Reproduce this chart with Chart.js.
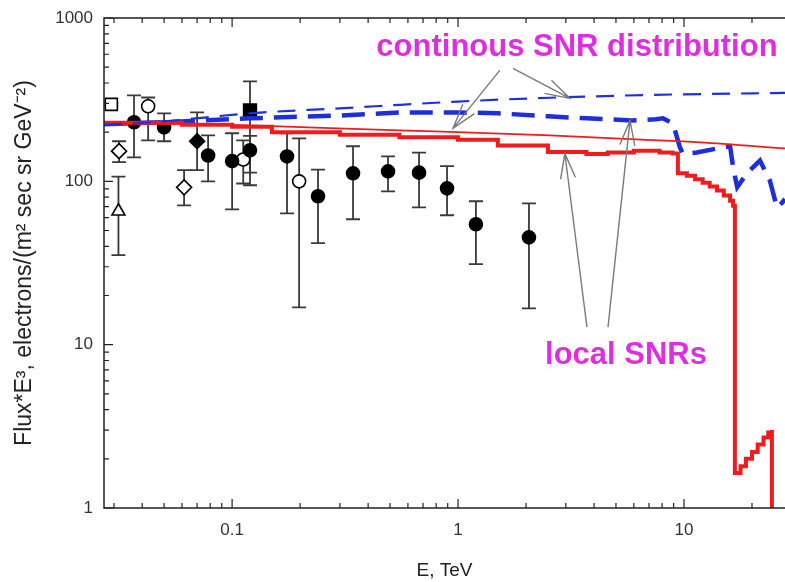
<!DOCTYPE html>
<html><head><meta charset="utf-8">
<script src="https://cdn.jsdelivr.net/npm/chart.js@4.4.1/dist/chart.umd.min.js"></script>
<style>html,body{margin:0;padding:0;background:#fff;overflow:hidden}canvas{display:block}</style>
</head><body>
<canvas id="c" width="785" height="582" style="width:785px;height:582px"></canvas>
<script>
// ---------- data (E in TeV, flux*E^3) ----------
const xTickValues = [0.1, 1, 10];
const xTickLabels = ['0.1', '1', '10'];
const yTickValues = [1, 10, 100, 1000];
const yTickLabels = ['1', '10', '100', '1000'];

// filled circles
const fcE  = [0.0368, 0.05, 0.0783, 0.100, 0.120, 0.175, 0.240, 0.343, 0.490, 0.672, 0.894, 1.20, 2.06];
const fcF  = [230, 214, 144, 133, 155, 142, 81, 112, 115, 113, 90.6, 54.6, 45.4];
const fcLo = [140, 176, 100, 67.4, 113, 63.7, 41.8, 58.6, 86.9, 69.3, 62, 31.1, 16.7];
const fcHi = [336, 261, 191, 197, 190, 197, 118, 164, 142, 150, 124, 75.5, 73.3];
// filled diamond
const fdE = [0.070], fdF = [176], fdLo = [117], fdHi = [264];
// filled square
const fsE = [0.120], fsF = [272], fsLo = [94.6], fsHi = [409];
// open circles
const ocE = [0.0425, 0.112, 0.198], ocF = [288, 136, 100], ocLo = [178, 97, 16.9], ocHi = [326, 178, 183];
// open diamonds
const odE = [0.0316, 0.0613], odF = [153, 91.9], odLo = [131, 71.3], odHi = [176, 117];
// open triangle
const otE = [0.0314], otF = [65.6], otLo = [35.3], otHi = [107];
// open square
const osE = [0.0292], osF = [296], osLo = [290], osHi = [302];

// continuous SNR distribution (thin dashed blue)
const contBlueE = [0.0271, 0.05, 0.12, 0.30, 0.553, 1.0, 2.55, 7.07, 28.0];
const contBlueF = [222, 233, 261, 280, 294, 308, 325, 338, 348];
// continuous SNR distribution (thin solid red)
const contRedE = [0.0271, 0.05, 0.12, 0.55, 1.0, 2.55, 6.5, 11.8, 28.0];
const contRedF = [228, 226, 220, 205, 200, 191, 180, 173, 159];
// local SNRs + background (thick dashed blue)
const localBlueE = [0.0271, 0.05, 0.12, 0.30, 0.553, 1.0, 1.5, 2.5, 3.7, 5.9, 7.5, 8.07, 8.94, 9.6, 9.9, 10.3, 11.4, 14.0, 16.0, 16.5, 17.2, 19.0, 21.7, 24.0, 25.8, 27.2, 28.0];
const localBlueF = [224, 230, 243, 253, 264, 264, 261, 250, 243, 236, 240, 243, 226, 161, 148, 148, 150, 159, 164, 122, 92, 112, 134, 101, 69, 74, 78];
// local SNRs (thick stepped red)
const localRedE = [0.0271, 0.06, 0.1, 0.15, 0.3, 0.55, 1.0, 1.5, 2.5, 3.7, 4.6, 6.0, 7.8, 8.9, 9.4, 10.3, 11.2, 12.1, 13.0, 14.0, 15.0, 16.0, 16.5, 16.8, 17.8, 18.8, 20.0, 21.2, 22.5, 23.6, 24.5, 24.5];
const localRedF = [228, 222, 216, 200, 193, 186, 180, 166, 151, 147, 150, 154, 150, 148, 112, 108, 103, 98, 93, 88, 82, 76, 71, 1.64, 1.8, 2.0, 2.2, 2.45, 2.7, 2.9, 3.0, 0.5];

// ---------- annotations (data coordinates) ----------
const notes = [
  {text: 'continous SNR distribution', x: 3.36, y: 660},
  {text: 'local SNRs', x: 5.54, y: 8.63}
];
const arrows = [
  {from: [1.53, 478], to: [0.95, 211]},
  {from: [1.75, 491], to: [3.13, 322]},
  {from: [3.72, 12.8], to: [2.97, 148]},
  {from: [4.61, 12.8], to: [5.77, 236]}
];

const pts = (xs, ys) => xs.map((v, i) => ({x: v, y: ys[i]}));

const markerSeries = [
  {E: fcE, F: fcF, lo: fcLo, hi: fcHi, style: 'circle', r: 6.5, fill: '#000'},
  {E: fdE, F: fdF, lo: fdLo, hi: fdHi, style: 'rectRot', r: 7.5, fill: '#000'},
  {E: fsE, F: fsF, lo: fsLo, hi: fsHi, style: 'rect', r: 9, fill: '#000'},
  {E: ocE, F: ocF, lo: ocLo, hi: ocHi, style: 'circle', r: 6.5, fill: '#fff'},
  {E: odE, F: odF, lo: odLo, hi: odHi, style: 'rectRot', r: 7.5, fill: '#fff'},
  {E: otE, F: otF, lo: otLo, hi: otHi, style: 'triangle', r: 7.5, fill: '#fff'},
  {E: osE, F: osF, lo: osLo, hi: osHi, style: 'rect', r: 8.5, fill: '#fff'}
];

const datasets = [];
datasets.push({data: pts(contBlueE, contBlueF), showLine: true, pointRadius: 0, borderColor: '#1f2fe0', borderWidth: 2.2, borderDash: [18, 11], cubicInterpolationMode: 'monotone', order: 0});
datasets.push({data: pts(contRedE, contRedF), showLine: true, pointRadius: 0, borderColor: '#ee1c1c', borderWidth: 1.8, cubicInterpolationMode: 'monotone', order: 1});
datasets.push({data: pts(localRedE, localRedF), showLine: true, pointRadius: 0, borderColor: '#ee1c1c', borderWidth: 4, stepped: true, order: 2});
datasets.push({data: pts(localBlueE, localBlueF), showLine: true, pointRadius: 0, borderColor: '#1f2fd8', borderWidth: 4.5, borderDash: [23, 11], order: 3});
markerSeries.forEach(s => {
  datasets.push({data: pts(s.E, s.F), showLine: false, pointStyle: s.style, pointRadius: s.r,
    backgroundColor: s.fill, borderColor: '#000', borderWidth: 1.6, order: 5});
});

const decor = {
  id: 'decor',
  beforeDatasetsDraw(chart) {
    const {ctx, scales: {x, y}} = chart;
    ctx.save();
    ctx.strokeStyle = '#3a3a3a';
    ctx.lineWidth = 1.8;
    markerSeries.forEach(s => {
      s.E.forEach((e, i) => {
        const px = x.getPixelForValue(e);
        const t = y.getPixelForValue(s.hi[i]), b = y.getPixelForValue(s.lo[i]);
        ctx.beginPath();
        ctx.moveTo(px, t); ctx.lineTo(px, b);
        ctx.moveTo(px - 7, t); ctx.lineTo(px + 7, t);
        ctx.moveTo(px - 7, b); ctx.lineTo(px + 7, b);
        ctx.stroke();
      });
    });
    ctx.restore();
  },
  afterDraw(chart) {
    const {ctx, chartArea: a, scales: {x, y}} = chart;
    ctx.save();
    // axes frame
    ctx.strokeStyle = '#222';
    ctx.lineWidth = 1.5;
    ctx.beginPath();
    ctx.moveTo(a.right + 2, a.top); ctx.lineTo(a.left, a.top); ctx.lineTo(a.left, a.bottom); ctx.lineTo(a.right + 2, a.bottom);
    ctx.stroke();
    // inward ticks
    ctx.lineWidth = 1.2;
    ctx.beginPath();
    for (let d = -2; d <= 2; d++) {
      for (let m = 1; m <= 9; m++) {
        const v = m * Math.pow(10, d);
        if (v < x.min || v > x.max) continue;
        const p = x.getPixelForValue(v), len = m === 1 ? 9 : 5;
        ctx.moveTo(p, a.bottom); ctx.lineTo(p, a.bottom - len);
        ctx.moveTo(p, a.top); ctx.lineTo(p, a.top + len);
      }
    }
    for (let d = 0; d <= 3; d++) {
      for (let m = 1; m <= 9; m++) {
        const v = m * Math.pow(10, d);
        if (v < y.min || v > y.max) continue;
        const p = y.getPixelForValue(v), len = m === 1 ? 9 : 5;
        ctx.moveTo(a.left, p); ctx.lineTo(a.left + len, p);
      }
    }
    ctx.stroke();
    // arrows
    ctx.strokeStyle = '#7a7a7a';
    ctx.lineWidth = 1.4;
    arrows.forEach(ar => {
      const x0 = x.getPixelForValue(ar.from[0]), y0 = y.getPixelForValue(ar.from[1]);
      const x1 = x.getPixelForValue(ar.to[0]), y1 = y.getPixelForValue(ar.to[1]);
      const ang = Math.atan2(y0 - y1, x0 - x1), L = 26, h = 0.29;
      ctx.beginPath();
      ctx.moveTo(x0, y0); ctx.lineTo(x1, y1);
      ctx.moveTo(x1 + L * Math.cos(ang - h), y1 + L * Math.sin(ang - h));
      ctx.lineTo(x1, y1);
      ctx.lineTo(x1 + L * Math.cos(ang + h), y1 + L * Math.sin(ang + h));
      ctx.stroke();
    });
    // labels
    ctx.fillStyle = '#dd2fdd';
    ctx.font = 'bold 31px "Liberation Sans", Arial, sans-serif';
    ctx.textAlign = 'center';
    ctx.textBaseline = 'middle';
    notes.forEach(n => ctx.fillText(n.text, x.getPixelForValue(n.x), y.getPixelForValue(n.y)));
    ctx.restore();
  }
};

new Chart(document.getElementById('c'), {
  type: 'scatter',
  data: {datasets},
  options: {
    responsive: false,
    animation: false,
    devicePixelRatio: 1,
    layout: {autoPadding: false, padding: {top: 18, right: 0, left: 0, bottom: 0}},
    plugins: {legend: {display: false}, tooltip: {enabled: false}},
    scales: {
      x: {
        type: 'logarithmic', min: 0.0271, max: 28.0,
        grid: {display: false, drawTicks: false},
        border: {display: false},
        afterBuildTicks: s => { s.ticks = xTickValues.map(v => ({value: v})); },
        afterFit: s => { s.height = 74; s.paddingLeft = 0; s.paddingRight = 0; },
        ticks: {autoSkip: false, maxRotation: 0, padding: 12, color: '#333',
          font: {family: '"Liberation Sans", Arial, sans-serif', size: 17},
          callback: v => { const i = xTickValues.indexOf(v); return i >= 0 ? xTickLabels[i] : ''; }},
        title: {display: true, text: 'E, TeV', color: '#222', padding: {top: 0, bottom: 0},
          font: {family: '"Liberation Sans", Arial, sans-serif', size: 19}}
      },
      y: {
        type: 'logarithmic', min: 1, max: 1000,
        grid: {display: false, drawTicks: false},
        border: {display: false},
        afterBuildTicks: s => { s.ticks = yTickValues.map(v => ({value: v})); },
        afterFit: s => { s.width = 104; s.paddingTop = 0; s.paddingBottom = 0; },
        ticks: {autoSkip: false, padding: 11, color: '#333',
          font: {family: '"Liberation Sans", Arial, sans-serif', size: 17},
          callback: v => { const i = yTickValues.indexOf(v); return i >= 0 ? yTickLabels[i] : ''; }},
        title: {display: true, text: 'Flux*E³, electrons/(m² sec sr GeV⁻²)', color: '#222', padding: {top: 11, bottom: 0},
          font: {family: '"Liberation Sans", Arial, sans-serif', size: 23}}
      }
    }
  },
  plugins: [decor]
});
</script>
</body></html>
